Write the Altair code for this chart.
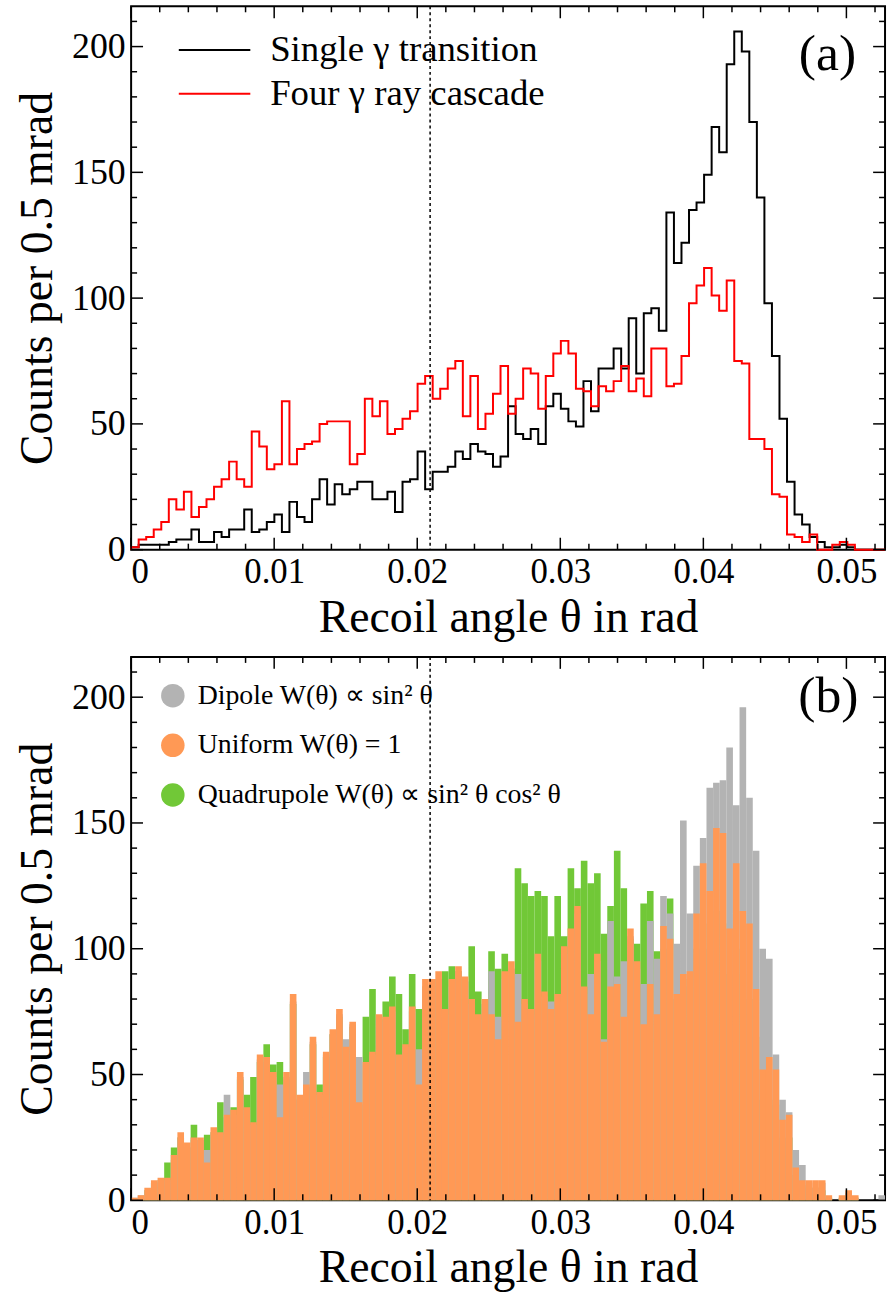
import altair as alt
import numpy as np
import pandas as pd

# ---------------- data ----------------
X_MAX = 0.0527      # upper end of histogram range / x axis (rad)
Y_MAX = 216
DASH_X = 0.0209     # dotted reference line (rad)

# panel (a): 100 bins between 0 and X_MAX
single_gamma = [1, 2, 2, 2, 2, 3, 4, 4, 8, 3,
                3, 7, 5, 8, 8, 16, 7, 8, 11, 14,
                7, 19, 13, 11, 20, 28, 18, 26, 22, 24,
                27, 27, 20, 20, 23, 15, 27, 28, 39, 24,
                31, 31, 33, 39, 36, 42, 39, 38, 33, 37,
                57, 46, 44, 48, 42, 57, 62, 56, 51, 49,
                67, 55, 72, 72, 80, 72, 92, 70, 94, 96,
                87, 134, 114, 122, 135, 138, 149, 168, 158, 193,
                206, 198, 170, 140, 98, 77, 52, 27, 14, 10,
                5, 3, 1, 1, 2, 1, 0, 0, 0, 0]
four_gamma = [1, 4, 5, 8, 11, 20, 16, 23, 13, 17,
              20, 25, 28, 35, 28, 25, 47, 41, 32, 34,
              59, 34, 40, 42, 43, 50, 51, 51, 51, 34,
              38, 60, 53, 59, 46, 48, 52, 55, 66, 69,
              60, 64, 72, 75, 53, 69, 48, 54, 62, 73,
              54, 60, 72, 70, 56, 69, 78, 83, 78, 64,
              63, 57, 65, 63, 67, 73, 63, 68, 61, 80,
              80, 65, 66, 77, 98, 105, 112, 101, 95, 107,
              75, 74, 44, 44, 40, 22, 21, 6, 5, 3,
              6, 0, 0, 2, 3, 2, 0, 0, 0, 0]

# panel (b): 114 bins between 0 and X_MAX
dipole = [1, 2, 4, 7, 8, 8, 16, 25, 21, 24,
          24, 20, 27, 26, 42, 34, 49, 36, 30, 56,
          55, 49, 46, 49, 79, 40, 51, 63, 42, 58,
          66, 74, 64, 70, 57, 54, 58, 72, 71, 75,
          56, 61, 75, 60, 85, 85, 88, 74, 85, 91,
          87, 78, 72, 78, 91, 73, 88, 92, 90, 78,
          74, 95, 81, 79, 79, 98, 105, 114, 82, 90,
          95, 64, 111, 89, 95, 105, 92, 86, 111, 96,
          121, 114, 102, 151, 114, 133, 144, 164, 166, 167,
          180, 157, 196, 160, 139, 100, 96, 58, 40, 35,
          20, 14, 7, 5, 7, 1, 0, 1, 3, 1,
          0, 0, 0, 2]
uniform = [1, 2, 5, 8, 9, 9, 18, 27, 23, 25,
           25, 15, 29, 27, 34, 36, 51, 37, 31, 58,
           57, 51, 33, 51, 82, 42, 46, 65, 43, 59,
           68, 76, 61, 71, 39, 55, 59, 74, 73, 77,
           58, 62, 77, 46, 88, 88, 91, 76, 88, 93,
           89, 80, 74, 80, 74, 64, 91, 95, 71, 80,
           76, 98, 83, 76, 82, 101, 108, 117, 85, 74,
           98, 63, 85, 86, 73, 108, 95, 70, 86, 74,
           109, 104, 82, 90, 91, 114, 134, 123, 148, 146,
           108, 134, 115, 110, 84, 52, 57, 52, 32, 34,
           13, 8, 8, 8, 8, 2, 0, 2, 4, 2,
           0, 0, 0, 0]
quadrupole = [0, 1, 4, 7, 8, 15, 21, 25, 21, 30,
              24, 26, 27, 39, 33, 37, 48, 42, 49, 55,
              62, 54, 55, 48, 78, 40, 45, 62, 46, 57,
              66, 73, 60, 69, 38, 73, 84, 72, 79, 89,
              82, 68, 90, 76, 85, 85, 88, 91, 93, 91,
              87, 101, 83, 78, 99, 92, 98, 92, 132, 126,
              121, 123, 121, 105, 121, 105, 132, 124, 135, 126,
              130, 106, 117, 139, 124, 104, 102, 118, 123, 99,
              100, 120, 80, 88, 85, 100, 110, 100, 115, 110,
              90, 100, 90, 80, 65, 40, 40, 38, 25, 25,
              10, 6, 5, 5, 4, 1, 0, 1, 2, 1,
              0, 0, 0, 0]

series_a = ["Single γ transition", "Four γ ray cascade"]
colors_a = ["#000000", "#ff0000"]
series_b = ["Dipole W(θ) ∝ sin² θ", "Uniform W(θ) = 1", "Quadrupole W(θ) ∝ sin² θ cos² θ"]
colors_b = ["#b3b3b3", "#ff9955", "#71c837"]

x_major = [0, 0.01, 0.02, 0.03, 0.04, 0.05]
x_minor = [0.002, 0.004, 0.006, 0.008, 0.012, 0.014, 0.016, 0.018, 0.022, 0.024,
           0.026, 0.028, 0.032, 0.034, 0.036, 0.038, 0.042, 0.044, 0.046, 0.048, 0.052]
y_major = [0, 50, 100, 150, 200]
y_minor = [10, 20, 30, 40, 60, 70, 80, 90, 110, 120, 130, 140, 160, 170, 180, 190, 210]

# ---------------- styling ----------------
W, H = 759, 547
FONT = "Liberation Serif"

xscale = alt.Scale(domain=[0, X_MAX], nice=False, zero=False)
yscale = alt.Scale(domain=[0, Y_MAX], nice=False)


def x_axis():
    return alt.Axis(values=x_major,
                    labelExpr="datum.value == 0 ? '0' : format(datum.value, '.2f')",
                    ticks=False, domain=False, grid=False,
                    labelFont=FONT, labelFontSize=35, labelColor="black", labelPadding=5,
                    title="Recoil angle θ in rad", titleFont=FONT, titleFontSize=46,
                    titleFontWeight="normal", titleColor="black", titlePadding=6)


def y_axis():
    return alt.Axis(values=y_major, ticks=False, domain=False, grid=False,
                    labelFont=FONT, labelFontSize=36, labelColor="black", labelPadding=6,
                    title="Counts per 0.5 mrad", titleFont=FONT, titleFontSize=46,
                    titleFontWeight="normal", titleColor="black", titlePadding=10)


def step_line_df(values):
    n = len(values)
    edges = np.linspace(0, X_MAX, n + 1)
    xs = [0.0] + list(edges[:-1]) + [edges[-1], edges[-1]]
    ys = [0.0] + list(values) + [values[-1], 0.0]
    return pd.DataFrame({"x": xs, "y": ys, "k": range(len(xs))})


def step_area_df(values):
    n = len(values)
    edges = np.linspace(0, X_MAX, n + 1)
    xs = list(edges[:-1]) + [edges[-1]]
    ys = list(values) + [values[-1]]
    return pd.DataFrame({"x": xs, "y": ys, "k": range(len(xs))})


def X(field):
    return alt.X(field, scale=xscale, axis=x_axis())


def Y(field):
    return alt.Y(field, scale=yscale, axis=y_axis())


def frame_ticks():
    layers = []
    for vals, ln in ((x_major, 12), (x_minor, 6)):
        d = pd.DataFrame({"x": vals})
        for y0, y1 in ((H, H - ln), (0, ln)):
            layers.append(alt.Chart(d).mark_rule(color="black", strokeWidth=1.5).encode(
                x=X("x:Q"), y=alt.value(y0), y2=alt.value(y1)))
    for vals, ln in ((y_major, 12), (y_minor, 6)):
        d = pd.DataFrame({"y": vals})
        for x0, x1 in ((0, ln), (W, W - ln)):
            layers.append(alt.Chart(d).mark_rule(color="black", strokeWidth=1.5).encode(
                y=Y("y:Q"), x=alt.value(x0), x2=alt.value(x1)))
    return layers


def dashed_line():
    return alt.Chart(pd.DataFrame({"x": [DASH_X]})).mark_rule(
        color="black", strokeWidth=1.5, strokeDash=[3, 3]).encode(x=X("x:Q"))


def panel_label(txt, xp, yp):
    return alt.Chart(pd.DataFrame({"t": [txt]})).mark_text(
        font=FONT, fontSize=52, align="center", baseline="middle", color="black").encode(
        text="t:N", x=alt.value(xp), y=alt.value(yp))


# ---------------- panel (a) ----------------
def line_layer(values, col):
    return alt.Chart(step_line_df(values)).mark_line(
        interpolate="step-after", strokeWidth=2, color=col).encode(
        x=X("x:Q"), y=Y("y:Q"), order="k:Q")


lines_a = [line_layer(single_gamma, colors_a[0]), line_layer(four_gamma, colors_a[1])]

legend_a = []
for name, col, yy in zip(series_a, colors_a, (44, 88)):
    d = pd.DataFrame({"s": [name]})
    legend_a.append(alt.Chart(d).mark_rule(color=col, strokeWidth=2).encode(
        x=alt.value(48), x2=alt.value(120), y=alt.value(yy)))
    legend_a.append(alt.Chart(d).mark_text(
        font=FONT, fontSize=37, align="left", baseline="middle", color="black").encode(
        text="s:N", x=alt.value(140), y=alt.value(yy)))

panel_a = alt.layer(*lines_a, dashed_line(), *frame_ticks(), *legend_a,
                    panel_label("(a)", 701, 48)).properties(width=W, height=H)


# ---------------- panel (b) ----------------
def area_layer(values, col):
    return alt.Chart(step_area_df(values)).mark_area(
        interpolate="step-after", opacity=1, color=col).encode(
        x=X("x:Q"), y=Y("y:Q"), order="k:Q")


# drawing order: quadrupole (back), dipole, uniform (front)
areas_b = [area_layer(quadrupole, colors_b[2]),
           area_layer(dipole, colors_b[0]),
           area_layer(uniform, colors_b[1])]

legend_b = []
for name, col, yy in zip(series_b, colors_b, (39, 89, 139)):
    d = pd.DataFrame({"s": [name]})
    legend_b.append(alt.Chart(d).mark_point(
        filled=True, size=560, opacity=1, color=col, shape="circle").encode(
        x=alt.value(42), y=alt.value(yy)))
    legend_b.append(alt.Chart(d).mark_text(
        font=FONT, fontSize=28, align="left", baseline="middle", color="black").encode(
        text="s:N", x=alt.value(67), y=alt.value(yy)))

panel_b = alt.layer(*areas_b, dashed_line(), *frame_ticks(), *legend_b,
                    panel_label("(b)", 702, 39)).properties(width=W, height=H)

chart = alt.vconcat(panel_a, panel_b, spacing=14).properties(
    padding={"left": 14, "top": 0, "right": 0, "bottom": 0}
).configure(background="white", view=alt.ViewConfig(stroke="black", strokeWidth=2))

chart.save("out.html", embed_options={"renderer": "svg", "actions": False})
